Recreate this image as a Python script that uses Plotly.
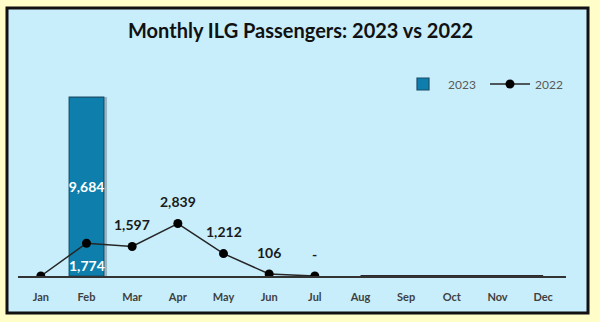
import plotly.graph_objects as go

months = ["Jan", "Feb", "Mar", "Apr", "May", "Jun", "Jul", "Aug", "Sep", "Oct", "Nov", "Dec"]
pax_2023 = [None, 9684, None, None, None, None, None, None, None, None, None, None]
pax_2022 = [0, 1774, 1597, 2839, 1212, 106, 0, None, None, None, None, None]
tail_2022 = [None, None, None, None, None, None, None, 0, 0, 0, 0, 0]
labels_2022 = ["", "1,774", "1,597", "2,839", "1,212", "106", "-", "", "", "", "", ""]
label_below = ["Feb"]

W, H = 600, 322
L, R, T, B = 18, 34, 70, 46
YMAX = 11150

fig = go.Figure()

# bar shadow
fig.add_trace(go.Bar(
    x=months, y=pax_2023, marker=dict(color="rgba(60,80,90,0.35)", line=dict(width=0)),
    width=0.78, offset=-0.33, showlegend=False, hoverinfo="skip",
))
fig.add_trace(go.Bar(
    x=months, y=pax_2023, name="2023",
    marker=dict(color="#0E7FAD", line=dict(color="#1B4D68", width=1.2)),
    width=0.76, offset=-0.38,
    texttemplate=["" if (v is None or v == 0) else f"{v:,}" for v in pax_2023],
    textposition="inside", insidetextanchor="middle", textangle=0,
    constraintext="none",
    textfont=dict(family="Lato", size=14, color="white", weight="bold"),
))
fig.add_trace(go.Scatter(
    x=months, y=tail_2022, mode="lines", line=dict(color="#2b2b2b", width=2.2),
    showlegend=False, hoverinfo="skip",
))
fig.add_trace(go.Scatter(
    x=months, y=pax_2022, name="2022", mode="lines+markers",
    line=dict(color="#262626", width=1.5),
    marker=dict(color="black", size=9),
))

annotations = []
for m, v, t in zip(months, pax_2022, labels_2022):
    if v is None or t == "":
        continue
    below = m in label_below
    annotations.append(dict(
        x=m, y=v, xref="x", yref="y", text=t, showarrow=False,
        yshift=-22 if below else 22,
        font=dict(family="Lato", size=14, color="white" if below else "#1a1a1a", weight="bold"),
    ))

pw, ph = W - L - R, H - T - B
def px(x):
    return (x - L) / pw
def py(y):
    return (H - B - y) / ph

annotations.append(dict(
    x=px(300), y=py(30), xref="paper", yref="paper", yanchor="middle",
    text="<b>Monthly ILG Passengers: 2023 vs 2022</b>",
    showarrow=False, font=dict(family="Lato", size=20, color="#111111"),
))

fig.update_layout(
    width=W, height=H,
    margin=dict(l=L, r=R, t=T, b=B, autoexpand=False),
    paper_bgcolor="#FFFDC8",
    plot_bgcolor="rgba(0,0,0,0)",
    barmode="overlay",
    annotations=annotations,
    shapes=[dict(
        type="rect", xref="paper", yref="paper", layer="below",
        x0=px(7), x1=px(588), y0=py(313), y1=py(8),
        fillcolor="#C8EEFC", line=dict(color="#111111", width=3),
    )],
    xaxis=dict(
        type="category", range=[-0.5, 11.5], showgrid=False, showline=True,
        linecolor="#333333", linewidth=1.5, ticks="", ticklabelstandoff=10,
        tickfont=dict(family="Lato", size=11, color="#404040", weight="bold"),
        fixedrange=True, zeroline=False,
    ),
    yaxis=dict(range=[0, YMAX], visible=False, showgrid=False, zeroline=False),
    legend=dict(
        orientation="h", x=px(398), y=py(84), xanchor="left", yanchor="middle",
        bgcolor="rgba(0,0,0,0)", font=dict(family="Lato", size=12, color="#595959"),
        itemwidth=40, entrywidth=32,
    ),
    showlegend=True,
)

fig.write_html("out.html")
